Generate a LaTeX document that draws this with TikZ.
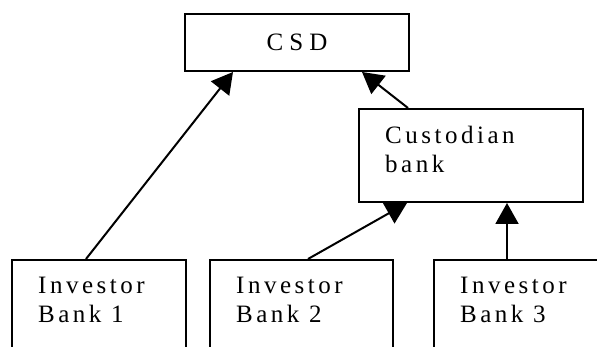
\documentclass[tikz,border=0pt]{standalone}
\usepackage{fontspec}
\setmainfont{Liberation Serif}
\newfontfamily\boxfont{Liberation Serif}[LetterSpace=14]
\newfontfamily\csdfont{Liberation Serif}[LetterSpace=24]
\usetikzlibrary{arrows.meta}

\begin{document}
\begin{tikzpicture}[x=1pt, y=-1pt,
  frame/.style={draw, line width=2pt, anchor=north west, inner sep=0pt},
  boxtext/.style={anchor=north west, inner sep=0pt, align=left,
    font=\boxfont\fontsize{25}{29.5}\selectfont},
  link/.style={line width=2pt, -{Triangle[length=21pt, width=23pt]}}]
  \path[use as bounding box, clip] (0,0) rectangle (597,347);

  % boxes
  \node[frame, minimum width=224pt, minimum height=57pt,
        font=\csdfont\fontsize{25}{29.5}\selectfont] (csd) at (184,13) {CSD};
  \node[frame, minimum width=224pt, minimum height=93pt] (cust) at (358,108) {};
  \node[frame, minimum width=174pt, minimum height=130pt] (b1) at (11,259) {};
  \node[frame, minimum width=183pt, minimum height=130pt] (b2) at (209,259) {};
  \node[frame, minimum width=220pt, minimum height=130pt] (b3) at (433,259) {};

  % box texts
  \node[boxtext] (tc) at ([shift={(27,17.5)}]cust.north west) {Custodian\\bank};
  \node[boxtext] (t1) at ([shift={(27,17.5)}]b1.north west) {Investor\\Bank 1};
  \node[boxtext] (t2) at ([shift={(27,17.5)}]b2.north west) {Investor\\Bank 2};
  \node[boxtext] (t3) at ([shift={(27,17.5)}]b3.north west) {Investor\\Bank 3};

  % connectors
  \draw[link] ([xshift=75pt]b1.north west) -- ([xshift=49pt]csd.south west);
  \draw[link] ([xshift=50pt]cust.north west) -- ([xshift=178pt]csd.south west);
  \draw[link] ([xshift=99pt]b2.north west) -- ([xshift=49pt]cust.south west);
  \draw[link] ([xshift=74pt]b3.north west) -- ([xshift=149pt]cust.south west);
\end{tikzpicture}
\end{document}
